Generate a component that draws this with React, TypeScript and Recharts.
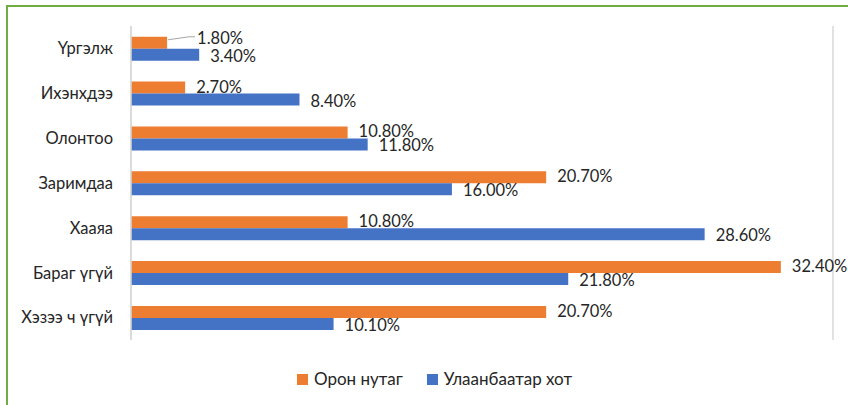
import { Bar, BarChart, CartesianGrid, LabelList, XAxis, YAxis } from 'recharts'

const categories = ['Үргэлж', 'Ихэнхдээ', 'Олонтоо', 'Заримдаа', 'Хааяа', 'Бараг үгүй', 'Хэзээ ч үгүй']
const ruralValues = [1.8, 2.7, 10.8, 20.7, 10.8, 32.4, 20.7]
const cityValues = [3.4, 8.4, 11.8, 16.0, 28.6, 21.8, 10.1]
const xTicks = [0, 5, 10, 15, 20, 25, 30, 35]

const seriesNames = { rural: 'Орон нутаг', city: 'Улаанбаатар хот' }
const colors = { rural: '#ED7D31', city: '#4472C4' }

const data = categories.map((name, i) => ({
  name,
  rural: ruralValues[i],
  city: cityValues[i],
}))

const font = 'Lato, "Open Sans", sans-serif'
const textColor = '#262626'
const labelGap = 11
const labelSize = 16.5

// the first orange label was dragged aside in the original, with a leader line
const movedLabels: Record<number, { dx: number; dy: number }> = { 0: { dx: 19, dy: -4 } }

const formatPct = (v: number | string) => `${Number(v).toFixed(2)}%`

function RuralLabel(props: any) {
  const { x, y, width, height, value, index } = props
  const endX = Number(x) + Number(width)
  const midY = Number(y) + Number(height) / 2 - 1
  const moved = movedLabels[index]
  const tx = endX + labelGap + (moved?.dx ?? 0)
  const ty = midY + (moved?.dy ?? 0)
  return (
    <g>
      {moved && (
        <polyline
          points={`${endX + 1},${Number(y) + 3} ${tx - 8},${ty - 1} ${tx - 2},${ty - 1}`}
          fill="none"
          stroke="#A6A6A6"
          strokeWidth={1}
        />
      )}
      <text x={tx} y={ty} dominantBaseline="central" fontFamily={font} fontSize={labelSize} fill={textColor}>
        {formatPct(value)}
      </text>
    </g>
  )
}

function CityLabel(props: any) {
  const { x, y, width, height, value } = props
  return (
    <text
      x={Number(x) + Number(width) + labelGap}
      y={Number(y) + Number(height) / 2 + 1}
      dominantBaseline="central"
      fontFamily={font}
      fontSize={labelSize}
      fill={textColor}
    >
      {formatPct(value)}
    </text>
  )
}

function ChartLegend() {
  const items = [
    { key: 'rural', label: seriesNames.rural, color: colors.rural },
    { key: 'city', label: seriesNames.city, color: colors.city },
  ]
  return (
    <div
      style={{
        position: 'absolute',
        left: 0,
        top: 369,
        width: 869,
        display: 'flex',
        justifyContent: 'center',
        gap: 24,
        fontFamily: font,
        fontSize: 17,
        lineHeight: '20px',
        color: textColor,
      }}
    >
      {items.map((item) => (
        <span key={item.key} style={{ display: 'flex', alignItems: 'center' }}>
          <i style={{ display: 'inline-block', width: 11, height: 11, background: item.color, marginRight: 6 }} />
          {item.label}
        </span>
      ))}
    </div>
  )
}

export default function App() {
  return (
    <div style={{ position: 'absolute', left: 0, top: 0, width: 848, height: 405, background: '#fff', overflow: 'hidden' }}>
      <div
        style={{
          position: 'absolute',
          left: 6,
          top: 5,
          width: 900,
          height: 450,
          border: '2px solid #70AD47',
          boxSizing: 'border-box',
        }}
      />
      <div style={{ position: 'absolute', left: 0, top: 0 }}>
        <BarChart
          width={848}
          height={405}
          data={data}
          layout="vertical"
          margin={{ top: 26, right: 15, bottom: 65, left: 0 }}
          barCategoryGap="24%"
          barGap={0}
        >
          <CartesianGrid horizontal={false} stroke="#D9D9D9" strokeWidth={1.5} />
          <XAxis
            type="number"
            domain={[0, 35]}
            ticks={xTicks}
            tick={false}
            tickLine={false}
            axisLine={false}
            height={0}
          />
          <YAxis
            type="category"
            dataKey="name"
            width={131}
            tickSize={0}
            tickMargin={18}
            axisLine={{ stroke: '#D9D9D9', strokeWidth: 1.5 }}
            tickLine={false}
            tick={{ fontFamily: font, fontSize: 16.5, fill: textColor }}
          />
          <Bar dataKey="rural" name={seriesNames.rural} fill={colors.rural} isAnimationActive={false}>
            <LabelList dataKey="rural" content={<RuralLabel />} />
          </Bar>
          <Bar dataKey="city" name={seriesNames.city} fill={colors.city} isAnimationActive={false}>
            <LabelList dataKey="city" content={<CityLabel />} />
          </Bar>
        </BarChart>
      </div>
      <ChartLegend />
    </div>
  )
}
